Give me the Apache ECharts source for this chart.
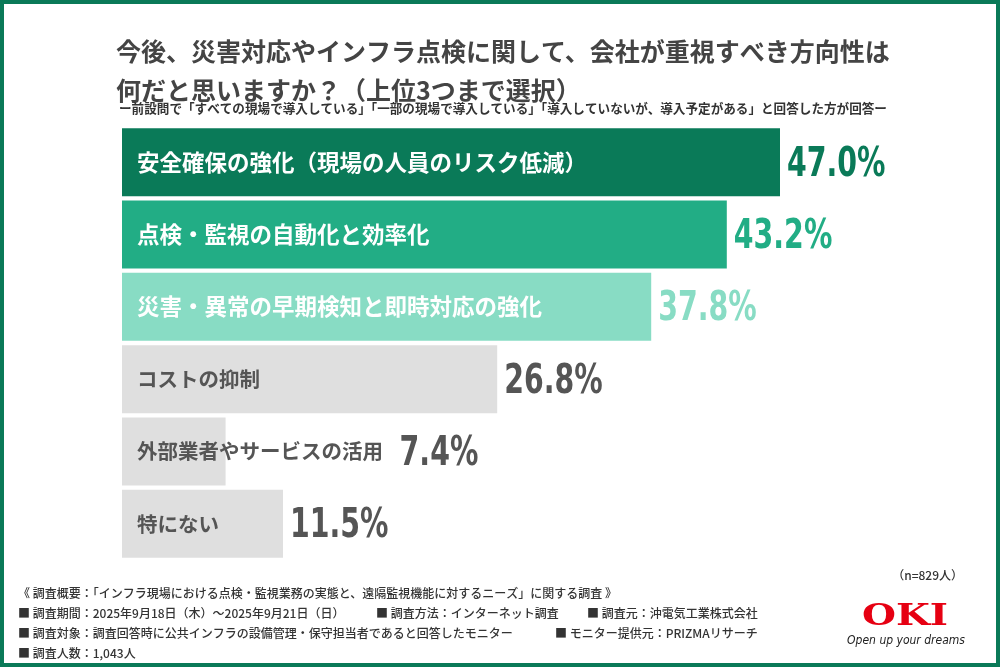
<!DOCTYPE html>
<html>
<head>
<meta charset="utf-8">
<script src="https://cdn.jsdelivr.net/npm/echarts@6/dist/echarts.min.js"></script>
<style>
html,body{margin:0;padding:0;background:#fff;}
#c{width:1000px;height:667px;}
</style>
</head>
<body>
<div id="c"></div>
<script>
const categories = [
  '安全確保の強化（現場の人員のリスク低減）',
  '点検・監視の自動化と効率化',
  '災害・異常の早期検知と即時対応の強化',
  'コストの抑制',
  '外部業者やサービスの活用',
  '特にない'
];
const values = [47.0, 43.2, 37.8, 26.8, 7.4, 11.5];

const titleText = '今後、災害対応やインフラ点検に関して、会社が重視すべき方向性は\n何だと思いますか？（上位3つまで選択）';
const subtitleText = 'ー前設問で「すべての現場で導入している」「一部の現場で導入している」「導入していないが、導入予定がある」と回答した方が回答ー';
const sampleNote = '（n=829人）';
const footerLines = [
  ['《 調査概要：「インフラ現場における点検・監視業務の実態と、遠隔監視機能に対するニーズ」に関する調査 》'],
  ['■ 調査期間：2025年9月18日（木）～2025年9月21日（日）', '■ 調査方法：インターネット調査', '■ 調査元：沖電気工業株式会社'],
  ['■ 調査対象：調査回答時に公共インフラの設備管理・保守担当者であると回答したモニター', '■ モニター提供元：PRIZMAリサーチ'],
  ['■ 調査人数：1,043人']
];

const barColors = ['#0a7a58', '#22ad85', '#88dcc4', '#dfdfdf', '#dfdfdf', '#dfdfdf'];
const valueColors = ['#0a7a58', '#22ad85', '#88dcc4', '#555555', '#555555', '#555555'];
const CJK = "'Noto Sans CJK JP', 'Noto Sans', sans-serif";
const NUM = "'DejaVu Sans Condensed', 'DejaVu Sans', sans-serif";

const chart = echarts.init(document.getElementById('c'));

const footerX = [[18], [18, 376, 587], [18, 555], [18]];
const footerY = [593, 613, 633, 653];
const graphics = [
  { type: 'rect', shape: { x: 2, y: 2, width: 996, height: 663 }, style: { fill: 'none', stroke: '#0a7a58', lineWidth: 4 }, z: 100 },
  { type: 'text', x: 963, y: 575, style: { text: sampleNote, fill: '#333', font: '500 12px ' + CJK, textAlign: 'right', textVerticalAlign: 'middle' } }
];
footerLines.forEach((line, r) => {
  line.forEach((t, k) => {
    graphics.push({ type: 'text', x: footerX[r][k], y: footerY[r],
      style: { text: t, fill: '#333', font: '500 12px ' + CJK, textVerticalAlign: 'middle' } });
  });
});
graphics.push({ type: 'text', x: 905, y: 617, scaleX: 1.3,
  style: { text: 'OKI', fill: '#e60012', font: 'bold 30px "DejaVu Serif", "Liberation Serif", serif', textAlign: 'center', textVerticalAlign: 'middle' } });
graphics.push({ type: 'text', x: 906, y: 641,
  style: { text: 'Open up your dreams', fill: '#222', font: 'italic 12px "DejaVu Sans Condensed", sans-serif', textAlign: 'center', textVerticalAlign: 'middle' } });

chart.setOption({
  animation: false,
  backgroundColor: '#fff',
  title: [
    { text: titleText, left: 111, top: 27,
      textStyle: { fontFamily: CJK, fontSize: 25, fontWeight: 'bold', color: '#444', lineHeight: 39 } },
    { text: subtitleText, left: 114, top: 96,
      textStyle: { fontFamily: CJK, fontSize: 12.6, fontWeight: 'bold', color: '#333', lineHeight: 14 } }
  ],
  grid: { left: 122, right: 178, top: 126, bottom: 107 },
  xAxis: { type: 'value', min: 0, max: 50, show: false },
  yAxis: {
    type: 'category', data: categories, inverse: true, z: 10,
    axisLine: { show: false }, axisTick: { show: false }, splitLine: { show: false },
    axisLabel: {
      inside: true, margin: 15,
      formatter: (v, i) => (i < 3 ? '{g|' + v + '}' : '{n|' + v + '}'),
      rich: {
        g: { fontFamily: CJK, fontSize: 22.5, fontWeight: 'bold', color: '#fff' },
        n: { fontFamily: CJK, fontSize: 20.5, fontWeight: 'bold', color: '#555' }
      }
    }
  },
  series: [{
    type: 'bar',
    barWidth: 68,
    data: values.map((v, i) => ({ value: v, itemStyle: { color: barColors[i] } }))
  }, {
    type: 'custom',
    coordinateSystem: 'cartesian2d',
    encode: { x: 0, y: 1 },
    data: values.map((v, i) => [v, i]),
    z: 5,
    renderItem: (params, api) => {
      const v = api.value(0);
      const idx = api.value(1);
      const pt = api.coord([v, idx]);
      const extra = idx === 4 ? 167 : 0;
      return {
        type: 'text',
        x: pt[0] + 7 + extra,
        y: pt[1] + 3,
        scaleX: 0.77,
        style: {
          text: v.toFixed(1) + '%',
          fill: valueColors[idx],
          font: 'bold 41px ' + NUM,
          textAlign: 'left',
          textVerticalAlign: 'middle'
        }
      };
    }
  }],
  graphic: graphics
});
</script>
</body>
</html>
